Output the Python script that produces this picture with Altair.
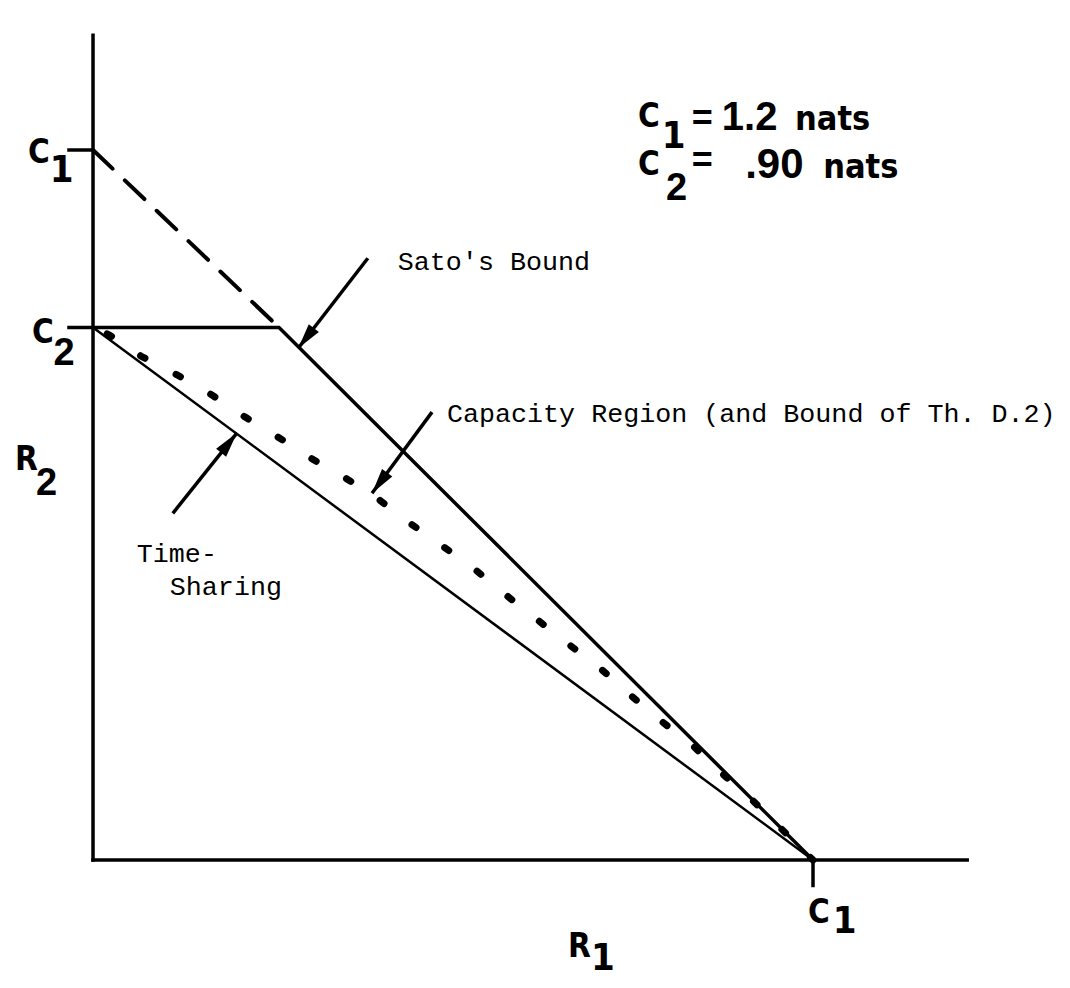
import math
import altair as alt
import pandas as pd

# ---------------- data (units: nats) ----------------
C1 = 1.2
C2 = 0.90
SATO_CORNER_R1 = 0.31

# capacity region boundary (dotted curve)
CAP_R1 = [0.0, 0.028, 0.081, 0.140, 0.198, 0.253, 0.308, 0.358, 0.420, 0.473, 0.520,
          0.575, 0.632, 0.678, 0.787, 0.842, 0.892, 0.940, 0.995, 1.042, 1.095, 1.2]
CAP_R2 = [0.9, 0.887, 0.851, 0.820, 0.786, 0.749, 0.715, 0.682, 0.646, 0.612, 0.575,
          0.536, 0.495, 0.456, 0.369, 0.327, 0.282, 0.240, 0.198, 0.152, 0.105, 0.0]

# Sato's bound: dashed part and solid part
SATO_DASH_R1 = [0.0, SATO_CORNER_R1]
SATO_DASH_R2 = [C1, C2]
SATO_SOLID_R1 = [0.0, SATO_CORNER_R1, C1]
SATO_SOLID_R2 = [C2, C2, 0.0]

# time sharing line
TS_R1 = [0.0, C1]
TS_R2 = [C2, 0.0]

# axis extents and tick marks
AXIS_X_END = 1.457
AXIS_Y_END = 1.394
TICK_LEN_X = 0.043
TICK_LEN_Y = 0.046

# annotation arrows: tail -> tip
ARROW_NAMES = ["sato", "capacity", "timesharing"]
ARROW_TAIL_X = [0.458, 0.565, 0.133]
ARROW_TAIL_Y = [1.017, 0.757, 0.586]
ARROW_TIP_X = [0.342, 0.465, 0.240]
ARROW_TIP_Y = [0.865, 0.620, 0.722]

# annotation texts (typewriter)
NOTE_TEXT = ["Sato's Bound", "Capacity Region (and Bound of Th. D.2)", "Time-", "Sharing"]
NOTE_X = [0.508, 0.590, 0.073, 0.128]
NOTE_Y = [0.997, 0.740, 0.504, 0.448]

# capital letters of the labels (left edge given)
CAP_TEXT = ["C", "C", "R", "R", "C", "C", "C"]
CAP_X = [-0.1083, -0.1017, -0.130, 0.7917, 1.1917, 0.9083, 0.9083]
CAP_Y = [1.178, 0.874, 0.659, -0.164, -0.107, 1.239, 1.158]
CAP_FS = [33, 33, 33, 33, 33, 33, 33]

# subscripts and units (condensed bold, left edge given)
LET_TEXT = ["1", "1", "1", "1", "nats", "nats"]
LET_X = [-0.072, 0.830, 1.233, 0.948, 1.170, 1.217]
LET_Y = [1.146, -0.186, -0.123, 1.203, 1.234, 1.153]
LET_FS = [38, 38, 38, 38, 34, 34]

# lettering (bold, wide)
BOLD_TEXT = ["2", "2", "=", "=", "1.2", "2", ".90"]
BOLD_X = [-0.066, -0.095, 0.998, 0.998, 1.048, 0.955, 1.087]
BOLD_Y = [0.837, 0.617, 1.234, 1.163, 1.234, 1.116, 1.153]
BOLD_FS = [38, 38, 36, 36, 40, 38, 42]

# ---------------- layout ----------------
W, H = 1054, 972
X_DOM = [-0.1417, 1.615]
Y_DOM = [-0.2028, 1.44]
SX = W / (X_DOM[1] - X_DOM[0])
SY = H / (Y_DOM[1] - Y_DOM[0])

xs = alt.Scale(domain=X_DOM, nice=False, zero=False)
ys = alt.Scale(domain=Y_DOM, nice=False, zero=False)

COND_FONT = "DejaVu Sans Condensed, Liberation Sans Narrow, Roboto, sans-serif"


def X(f="x"):
    return alt.X(f"{f}:Q", scale=xs, axis=None)


def Y(f="y"):
    return alt.Y(f"{f}:Q", scale=ys, axis=None)


def line_df(r1, r2):
    return pd.DataFrame({"x": r1, "y": r2, "i": list(range(len(r1)))})


# axes
axes_df = pd.DataFrame({"x": [0.0, 0.0], "y": [0.0, 0.0],
                        "x2": [0.0, AXIS_X_END], "y2": [AXIS_Y_END, 0.0]})
axes = alt.Chart(axes_df).mark_rule(color="black", strokeWidth=3.5, strokeCap="square").encode(
    x=X(), y=Y(), x2="x2:Q", y2="y2:Q")

# ticks
ticks_df = pd.DataFrame({
    "x": [-TICK_LEN_X, -TICK_LEN_X, C1],
    "x2": [0.0, 0.0, C1],
    "y": [C1, C2, 0.0],
    "y2": [C1, C2, -TICK_LEN_Y],
})
ticks = alt.Chart(ticks_df).mark_rule(color="black", strokeWidth=3.5).encode(
    x=X(), y=Y(), x2="x2:Q", y2="y2:Q")

sato_dash = alt.Chart(line_df(SATO_DASH_R1, SATO_DASH_R2)).mark_line(
    color="black", strokeWidth=4, strokeDash=[27, 17], strokeCap="round").encode(
    x=X(), y=Y(), order="i:Q")

sato_solid = alt.Chart(line_df(SATO_SOLID_R1, SATO_SOLID_R2)).mark_line(
    color="black", strokeWidth=3.5, strokeJoin="miter").encode(
    x=X(), y=Y(), order="i:Q")

ts = alt.Chart(line_df(TS_R1, TS_R2)).mark_line(color="black", strokeWidth=2.5).encode(
    x=X(), y=Y(), order="i:Q")

cap = alt.Chart(line_df(CAP_R1, CAP_R2)).mark_line(
    color="black", strokeWidth=7, strokeDash=[5, 35], strokeDashOffset=24.5,
    strokeCap="round").encode(x=X(), y=Y(), order="i:Q")

# arrows
angles = []
for tx, ty, px, py in zip(ARROW_TAIL_X, ARROW_TAIL_Y, ARROW_TIP_X, ARROW_TIP_Y):
    dx = (px - tx) * SX
    dy = -(py - ty) * SY
    angles.append(math.degrees(math.atan2(dx, -dy)) % 360)

arrow_df = pd.DataFrame({"name": ARROW_NAMES, "x": ARROW_TAIL_X, "y": ARROW_TAIL_Y,
                         "x2": ARROW_TIP_X, "y2": ARROW_TIP_Y, "angle": angles})
shafts = alt.Chart(arrow_df).mark_rule(color="black", strokeWidth=3.5).encode(
    x=X(), y=Y(), x2="x2:Q", y2="y2:Q")
heads = alt.Chart(arrow_df).mark_point(
    shape="M0,0 L-0.5,2 L0.5,2 Z", filled=True, color="black", opacity=1, size=650,
    strokeWidth=0).encode(
    x=X("x2"), y=Y("y2"), angle=alt.Angle("angle:Q", scale=None))

# texts
note_df = pd.DataFrame({"t": NOTE_TEXT, "x": NOTE_X, "y": NOTE_Y})
notes = alt.Chart(note_df).mark_text(
    font="Liberation Mono", fontSize=26.7, align="left", baseline="alphabetic",
    color="black").encode(x=X(), y=Y(), text="t:N")

capl_df = pd.DataFrame({"t": CAP_TEXT, "x": CAP_X, "y": CAP_Y, "fs": CAP_FS})
capitals = alt.Chart(capl_df).mark_text(
    font=COND_FONT, fontWeight="bold", align="left", baseline="alphabetic",
    color="black").encode(
    x=X(), y=Y(), text="t:N", size=alt.Size("fs:Q", scale=None))

let_df = pd.DataFrame({"t": LET_TEXT, "x": LET_X, "y": LET_Y, "fs": LET_FS})
letters = alt.Chart(let_df).mark_text(
    font=COND_FONT, fontWeight="bold", align="left", baseline="alphabetic",
    color="black").encode(
    x=X(), y=Y(), text="t:N", size=alt.Size("fs:Q", scale=None))

bold_df = pd.DataFrame({"t": BOLD_TEXT, "x": BOLD_X, "y": BOLD_Y, "fs": BOLD_FS})
bolds = alt.Chart(bold_df).mark_text(
    font="Liberation Sans", fontWeight="bold", align="left", baseline="alphabetic",
    color="black").encode(
    x=X(), y=Y(), text="t:N", size=alt.Size("fs:Q", scale=None))

chart = alt.layer(
    ts, cap, sato_dash, sato_solid, axes, ticks, shafts, heads, notes,
    capitals, letters, bolds
).properties(
    width=W, height=H, padding=0, background="white",
    autosize=alt.AutoSizeParams(type="none"),
).configure_view(strokeOpacity=0)

chart.save("out.html", embed_options={"renderer": "svg", "actions": False})
